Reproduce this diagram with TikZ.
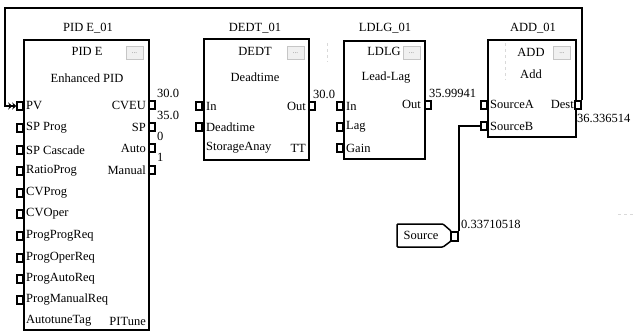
\documentclass[tikz,border=0pt]{standalone}
\usepackage{fontspec}
\setmainfont{Liberation Serif}
\usetikzlibrary{arrows.meta}
\begin{document}
\begin{tikzpicture}[x=1pt,y=-1pt,
  txt/.style={inner sep=0pt,font=\fontsize{12.5}{14}\selectfont},
  blk/.style={draw,line width=1.5pt,inner sep=0pt,anchor=north west},
  port/.style={draw,line width=1.5pt,minimum width=6pt,minimum height=8pt,inner sep=0pt,fill=white},
  bport/.style={port,path picture={\fill (path picture bounding box.center) circle (1.2pt);}},
  btn/.style={draw=gray!45,fill=gray!12,minimum width=17pt,minimum height=13pt,inner sep=0pt,font=\fontsize{7}{7}\selectfont,text=gray},
  wire/.style={line width=1.5pt},
  faint/.style={gray!30,dashed,line width=0.6pt}]
\useasboundingbox (0,0) rectangle (635,332);

% ---------- faint artefacts
\draw[faint] (327,43) -- (327,62);
\draw[faint] (505,43) -- (505,80);
\draw[faint] (618,214) -- (635,214);

% ---------- PID E block
\node[blk,minimum width=125pt,minimum height=290pt] (pid) at (23,39) {};
\node[txt] (pidT) at (88,28) {PID E\_01};
\node[txt] (pidN) at (87,51) {PID E};
\node[btn] (pidB) at (134.5,53) {...};
\node[txt] (pidD) at (87,78) {Enhanced PID};
\foreach \n/\t/\y in {a/PV/106,b/SP Prog/128,c/SP Cascade/150,d/RatioProg/171,e/CVProg/193,f/CVOper/214,g/ProgProgReq/236}{
  \node[port] (pin\n) at (20,\y) {};
  \node[txt,anchor=west] (lin\n) at (26,\y) {\t};
}
\foreach \n/\t/\y in {h/ProgOperReq/258,i/ProgAutoReq/279,j/ProgManualReq/300}{
  \node[bport] (pin\n) at (20,\y) {};
  \node[txt,anchor=west] (lin\n) at (26,\y) {\t};
}
\node[txt,anchor=west] (atag) at (26,321) {AutotuneTag};
\node[txt,anchor=east] (pit) at (146,321) {PITune};
\node[port] (pCVEU) at (152,105) {};
\node[port] (pSP) at (152,127) {};
\node[bport] (pAuto) at (152,148) {};
\node[bport] (pMan) at (152,170) {};
\node[txt,anchor=east] (lCVEU) at (146,105) {CVEU};
\node[txt,anchor=east] (lSP) at (146,127) {SP};
\node[txt,anchor=east] (lAuto) at (146,148) {Auto};
\node[txt,anchor=east] (lMan) at (146,170) {Manual};
\node[txt,anchor=west] (v1) at (157,93) {30.0};
\node[txt,anchor=west] (v2) at (157,115) {35.0};
\node[txt,anchor=west] (v3) at (157,136) {0};
\node[txt,anchor=west] (v4) at (157,157) {1};

% ---------- DEDT block
\node[blk,minimum width=105pt,minimum height=121pt] (dedt) at (203,38) {};
\node[txt] (dT) at (255,28) {DEDT\_01};
\node[txt] (dN) at (255,51) {DEDT};
\node[btn] (dB) at (295.5,53) {...};
\node[txt] (dD) at (255,77) {Deadtime};
\node[port] (dIn) at (199,106) {};
\node[port] (dDt) at (199,127) {};
\node[txt,anchor=west] (ldIn) at (206,106) {In};
\node[txt,anchor=west] (ldDt) at (206,127) {Deadtime};
\node[txt,anchor=west] (ldSt) at (206,148) {StorageAnay};
\node[port] (dOut) at (312,106) {};
\node[txt,anchor=east] (ldOut) at (306,106) {Out};
\node[txt,anchor=east] (ldTT) at (306,148) {TT};
\node[txt,anchor=west] (v5) at (313,94) {30.0};

% ---------- LDLG block
\node[blk,minimum width=81pt,minimum height=118pt] (ldlg) at (343,40) {};
\node[txt] (lT) at (385,28) {LDLG\_01};
\node[txt] (lN) at (384,51) {LDLG};
\node[btn] (lB) at (411.5,53) {...};
\node[txt] (lD) at (386,78) {Lead-Lag};
\node[port] (lIn) at (340,106) {};
\node[port] (lLag) at (340,127) {};
\node[port] (lGain) at (340,148) {};
\node[txt,anchor=west] (llIn) at (346,106) {In};
\node[txt,anchor=west] (llLag) at (346,127) {Lag};
\node[txt,anchor=west] (llGain) at (346,148) {Gain};
\node[port] (lOut) at (428,105) {};
\node[txt,anchor=east] (llOut) at (421,104) {Out};
\node[txt,anchor=west] (v6) at (429,93) {35.99941};

% ---------- ADD block
\node[blk,minimum width=88pt,minimum height=97pt] (add) at (487,39) {};
\node[txt] (aT) at (533,28) {ADD\_01};
\node[txt] (aN) at (531,52) {ADD};
\node[btn] (aB) at (562,53) {...};
\node[txt] (aD) at (531,74) {Add};
\node[port] (pSA) at (484,105) {};
\node[port] (pSB) at (484,126) {};
\node[txt,anchor=west] (lSA) at (490,104) {SourceA};
\node[txt,anchor=west] (lSB) at (490,126) {SourceB};
\node[port] (pDest) at (578,105) {};
\node[txt,anchor=east] (lDest) at (574,104) {Dest};
\node[txt,anchor=west] (v7) at (577,118) {36.336514};

% ---------- Source tag
\draw[line width=1.5pt,rounded corners=1pt] (397,224) -- (443,224) -- (451,231) -- (451,241) -- (443,247) -- (397,247) -- cycle;
\node[txt] (srcT) at (421,235.5) {Source};
\node[port,minimum width=7pt,minimum height=9pt] (pSrc) at (454.5,236.5) {};
\node[txt,anchor=west] (v8) at (461,224) {0.33710518};

% ---------- connectors
\coordinate (fbTop) at (5,8);
\draw[wire,-{Stealth[length=4pt,width=7pt]Stealth[length=4pt,width=7pt]}] (pDest.north east) |- (fbTop) |- (pina.west);
\draw[wire] (pSrc.north east) |- (pSB.west);
\end{tikzpicture}
\end{document}
